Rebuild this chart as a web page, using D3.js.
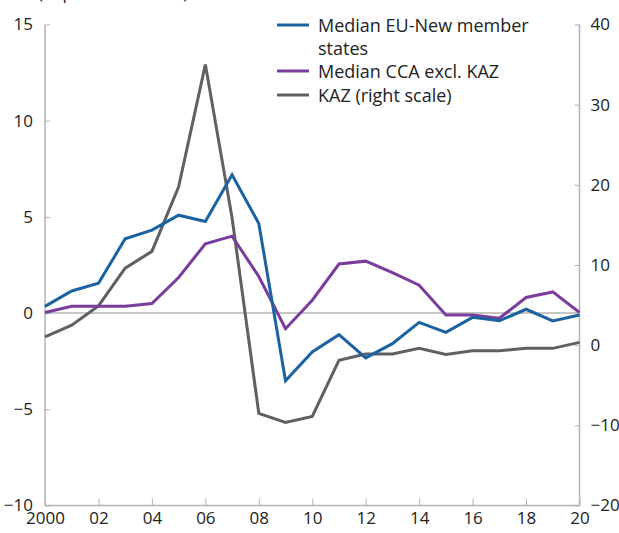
<!DOCTYPE html>
<html>
<head>
<meta charset="utf-8">
<script src="https://cdn.jsdelivr.net/npm/d3@7"></script>
<style>
  body { margin: 0; background: #fff; }
  text { font-family: "Open Sans", "Noto Sans", sans-serif; fill: #222; }
</style>
</head>
<body>
<div id="chart"></div>
<script>
// Data
var years = d3.range(2000, 2021);
var euNew = [0.35, 1.15, 1.55, 3.86, 4.31, 5.09, 4.76, 7.19, 4.66, -3.52, -2.02, -1.12, -2.33, -1.59, -0.48, -1.0, -0.22, -0.4, 0.2, -0.41, -0.1];
var ccaExKaz = [0.03, 0.35, 0.35, 0.35, 0.5, 1.85, 3.6, 4.0, 1.9, -0.81, 0.67, 2.55, 2.7, 2.1, 1.45, -0.1, -0.1, -0.27, 0.81, 1.1, 0.03];
var kaz = [1.04, 2.5, 4.9, 9.6, 11.7, 19.75, 35.0, 15.9, -8.5, -9.65, -8.9, -1.9, -1.1, -1.1, -0.4, -1.15, -0.7, -0.7, -0.4, -0.4, 0.35];
var leftTicks = [-10, -5, 0, 5, 10, 15];
var rightTicks = [-20, -10, 0, 10, 20, 30, 40];
var xTicks = d3.range(2000, 2021, 2);
var legendLabels = [["Median EU-New member", "states"], ["Median CCA excl. KAZ"], ["KAZ (right scale)"]];

var svgWidth = 619;
var svgHeight = 533;
var margin = { top: 24.5, right: 39.5, bottom: 27.5, left: 45 };
var width = svgWidth - margin.left - margin.right;
var height = svgHeight - margin.top - margin.bottom;

var colors = ["#1b62a1", "#7a3d9c", "#5e6063"];
var axisColor = "#b3b3b3";

var svg = d3.select("#chart").append("svg")
  .attr("width", svgWidth)
  .attr("height", svgHeight);

// unit line, mostly cut off at the top like in the reference
svg.append("text")
  .attr("x", 38)
  .attr("y", -1)
  .attr("font-size", 17)
  .text("(In percent of GDP)");

var chartGroup = svg.append("g")
  .attr("transform", `translate(${margin.left}, ${margin.top})`);

var x = d3.scaleLinear().domain([2000, 2020]).range([0, width]);
var yLeft = d3.scaleLinear().domain([-10, 15]).range([height, 0]);
var yRight = d3.scaleLinear().domain([-20, 40]).range([height, 0]);

// Axes
var bottomAxis = d3.axisBottom(x).tickValues(xTicks)
  .tickSize(-7).tickPadding(8)
  .tickFormat(d => d === 2000 ? "2000" : d3.format("02")(d % 100));
var leftAxis = d3.axisLeft(yLeft).tickValues(leftTicks).tickSize(-5).tickPadding(12);
var rightAxis = d3.axisRight(yRight).tickValues(rightTicks).tickSize(-5).tickPadding(11);

function styleAxis(g) {
  g.select(".domain").attr("stroke", axisColor).attr("stroke-width", 1.5);
  g.selectAll(".tick line").attr("stroke", axisColor).attr("stroke-width", 1);
  g.selectAll(".tick text").attr("font-size", 17).attr("fill", "#222")
    .attr("font-family", "'Open Sans', 'Noto Sans', sans-serif");
}

chartGroup.append("g").attr("transform", `translate(0, ${height})`)
  .call(bottomAxis).call(styleAxis)
  .call(g => g.select(".domain").attr("d", `M0,0H${width}`))
  .call(g => g.selectAll(".tick text").attr("dy", "0.62em"));
chartGroup.append("g")
  .call(leftAxis).call(styleAxis)
  .call(g => g.select(".domain").attr("d", `M0,0V${height}`));
chartGroup.append("g").attr("transform", `translate(${width}, 0)`)
  .call(rightAxis).call(styleAxis)
  .call(g => g.select(".domain").attr("d", `M0,0V${height}`));

// zero line
chartGroup.append("line")
  .attr("x1", 0).attr("x2", width)
  .attr("y1", yLeft(0)).attr("y2", yLeft(0))
  .attr("stroke", axisColor).attr("stroke-width", 1.5);

// Lines
var series = [
  { values: euNew, scale: yLeft },
  { values: ccaExKaz, scale: yLeft },
  { values: kaz, scale: yRight }
];
// draw order: gray under, then purple, then blue
[2, 1, 0].forEach(function(i) {
  var s = series[i];
  var line = d3.line()
    .x((d, j) => x(years[j]))
    .y(d => s.scale(d));
  chartGroup.append("path")
    .datum(s.values)
    .attr("fill", "none")
    .attr("stroke", colors[i])
    .attr("stroke-width", 3)
    .attr("stroke-linejoin", "miter")
    .attr("d", line);
});

// Legend
var legendY = [25, 71, 95];
var legend = svg.append("g");
legendLabels.forEach(function(lines, i) {
  legend.append("line")
    .attr("x1", 277).attr("x2", 309)
    .attr("y1", legendY[i]).attr("y2", legendY[i])
    .attr("stroke", colors[i]).attr("stroke-width", 3);
  lines.forEach(function(t, k) {
    legend.append("text")
      .attr("x", 318)
      .attr("y", legendY[i] + 6.5 + k * 23)
      .attr("font-size", 18)
      .text(t);
  });
});
</script>
</body>
</html>
